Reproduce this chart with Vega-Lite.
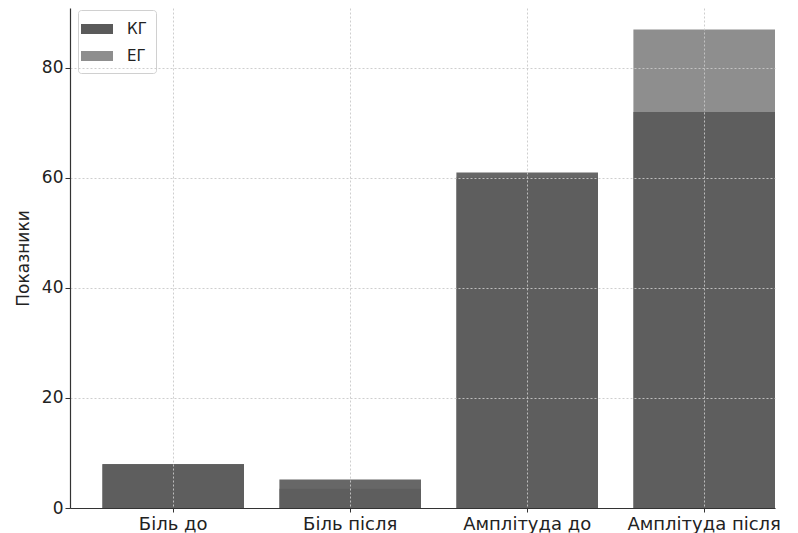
{
  "$schema": "https://vega.github.io/schema/vega-lite/v6.json",
  "width": 705,
  "height": 500,
  "autosize": {"type": "none"},
  "padding": {"left": 70, "top": 8, "right": 23, "bottom": 25},
  "background": "white",
  "config": {
    "view": {"stroke": null},
    "font": "DejaVu Sans",
    "axis": {
      "labelFont": "DejaVu Sans",
      "titleFont": "DejaVu Sans",
      "labelColor": "#222",
      "titleColor": "#222",
      "domainColor": "#333",
      "domainWidth": 1.2,
      "tickColor": "#333",
      "gridColor": "#c8c8c8",
      "gridDash": [2, 2],
      "gridWidth": 0.9
    }
  },
  "data": {
    "values": [
      {"cat": "Біль до", "group": "ЕГ", "value": 7.9},
      {"cat": "Біль після", "group": "ЕГ", "value": 3.5},
      {"cat": "Амплітуда до", "group": "ЕГ", "value": 60.1},
      {"cat": "Амплітуда після", "group": "ЕГ", "value": 87},
      {"cat": "Біль до", "group": "КГ", "value": 8},
      {"cat": "Біль після", "group": "КГ", "value": 5.2},
      {"cat": "Амплітуда до", "group": "КГ", "value": 61},
      {"cat": "Амплітуда після", "group": "КГ", "value": 72}
    ]
  },
  "encoding": {
    "x": {
      "field": "cat",
      "type": "nominal",
      "sort": ["Біль до", "Біль після", "Амплітуда до", "Амплітуда після"],
      "scale": {"paddingInner": 0.2, "paddingOuter": 0.0915, "align": 1},
      "axis": {
        "title": null,
        "labelAngle": 0,
        "labelFontSize": 18,
        "labelPadding": 3,
        "tickSize": 4,
        "grid": true,
        "zindex": 1
      }
    },
    "y": {
      "field": "value",
      "type": "quantitative",
      "stack": null,
      "scale": {"domain": [0, 90.9], "nice": false},
      "axis": {
        "title": "Показники",
        "titleFontSize": 17,
        "titleFontWeight": "normal",
        "titlePadding": 9,
        "labelFontSize": 17,
        "values": [0, 20, 40, 60, 80],
        "tickSize": 5,
        "grid": true,
        "zindex": 1
      }
    },
    "color": {
      "field": "group",
      "type": "nominal",
      "scale": {"domain": ["КГ", "ЕГ"], "range": ["#5a5a5a", "#8e8e8e"]},
      "legend": {
        "title": null,
        "orient": "none",
        "legendX": 8,
        "legendY": 2,
        "symbolType": "M-1.6,-0.5H1.6V0.5H-1.6Z",
        "symbolSize": 400,
        "symbolStrokeWidth": 0,
        "symbolOpacity": 1,
        "labelFontSize": 15,
        "labelColor": "#222",
        "strokeColor": "#d0d0d0",
        "fillColor": "white",
        "cornerRadius": 3,
        "padding": 9,
        "rowPadding": 9,
        "labelOffset": 20
      }
    }
  },
  "layer": [
    {
      "transform": [{"filter": "datum.group === 'ЕГ'"}],
      "mark": {"type": "bar"}
    },
    {
      "transform": [{"filter": "datum.group === 'КГ'"}],
      "mark": {"type": "bar", "opacity": 0.92}
    }
  ]
}
